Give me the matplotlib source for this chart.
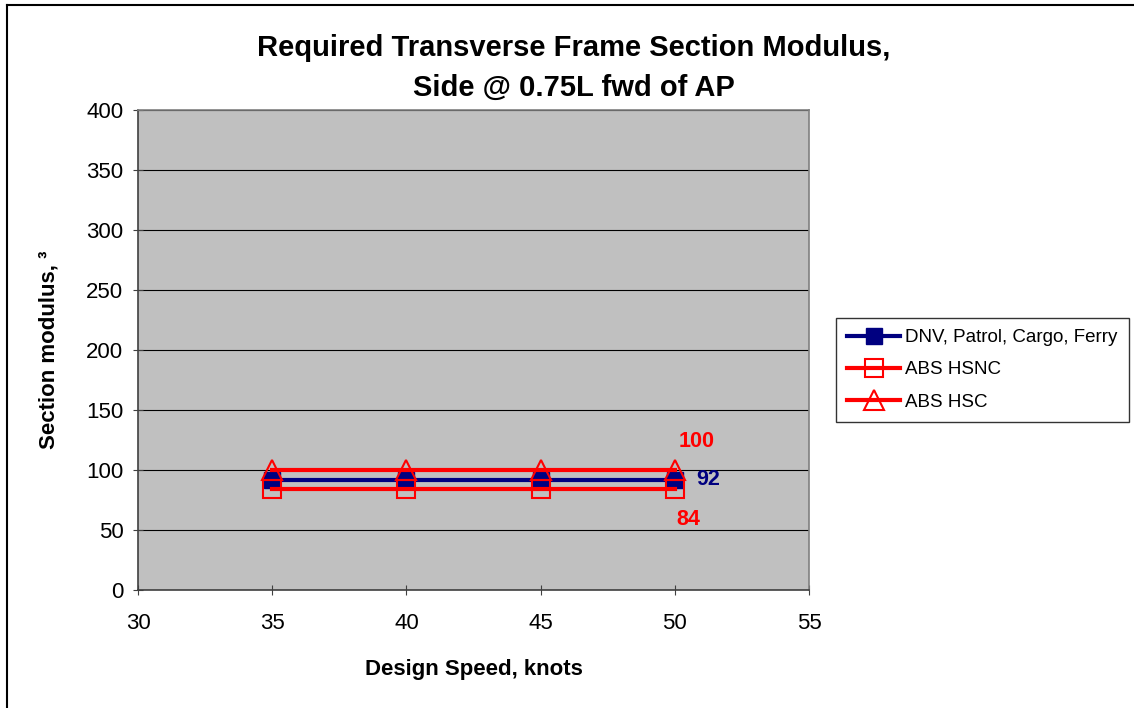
import matplotlib
matplotlib.use('Agg')
import matplotlib.pyplot as plt
from matplotlib.lines import Line2D

# ── Data ──────────────────────────────────────────────────────────────────────
speeds    = [35, 40, 45, 50]
dnv       = [92, 92, 92, 92]
abs_hsnc  = [84, 84, 84, 84]
abs_hsc   = [100, 100, 100, 100]
labels    = ['DNV, Patrol, Cargo, Ferry', 'ABS HSNC', 'ABS HSC']
x_ticks   = [30, 35, 40, 45, 50, 55]
y_ticks   = [0, 50, 100, 150, 200, 250, 300, 350, 400]

plt.rcParams['font.family'] = ['Liberation Sans', 'DejaVu Sans']

fig = plt.figure(figsize=(11.34, 7.08), dpi=100)
fig.patch.set_facecolor('white')
ax = fig.add_axes([138/1134, 1 - 590/708, (809 - 138)/1134, (590 - 110)/708])
ax.set_facecolor('#C0C0C0')

# outer frame (only top & left visible in the original)
fig.add_artist(Line2D([7/1134, 7/1134], [0, 1 - 5/708], color='black', lw=1.5))
fig.add_artist(Line2D([7/1134, 1], [1 - 5/708, 1 - 5/708], color='black', lw=1.5))

ax.plot(speeds, dnv, color='#000080', lw=3, marker='s', ms=11,
        mfc='#000080', mec='#000080', label=labels[0], zorder=3)
ax.plot(speeds, abs_hsnc, color='#FF0000', lw=3, marker='s', ms=13,
        mfc='none', mec='#FF0000', mew=1.5, label=labels[1], zorder=4)
ax.plot(speeds, abs_hsc, color='#FF0000', lw=3, marker='^', ms=14,
        mfc='none', mec='#FF0000', mew=1.5, label=labels[2], zorder=5)

# end-value labels
ax.text(speeds[-1] + 0.15, abs_hsc[-1] + 24, f'{abs_hsc[-1]}', color='#FF0000',
        fontsize=15.5, fontweight='bold', ha='left', va='center')
ax.text(speeds[-1] + 0.8, dnv[-1], f'{dnv[-1]}', color='#000080',
        fontsize=15.5, fontweight='bold', ha='left', va='center')
ax.text(speeds[-1] + 0.05, abs_hsnc[-1] - 25, f'{abs_hsnc[-1]}', color='#FF0000',
        fontsize=15.5, fontweight='bold', ha='left', va='center')

ax.set_xlim(30, 55)
ax.set_ylim(0, 400)
ax.set_xticks(x_ticks)
ax.set_yticks(y_ticks)
ax.grid(axis='y', color='black', lw=0.8)
ax.set_axisbelow(True)
ax.tick_params(direction='inout', length=7, labelsize=16, color='#404040')
ax.tick_params(axis='x', pad=13)
ax.tick_params(axis='y', pad=7)

for sp in ax.spines.values():
    sp.set_edgecolor('#808080')
    sp.set_linewidth(1.2)
ax.spines['left'].set_edgecolor('#404040')
ax.spines['bottom'].set_edgecolor('#404040')

fig.text(574/1134, 1 - 68/708,
         'Required Transverse Frame Section Modulus,\nSide @ 0.75L fwd of AP',
         fontsize=21, fontweight='bold', ha='center', va='center',
         linespacing=1.55)
ax.set_xlabel('Design Speed, knots', fontsize=16, fontweight='bold', labelpad=18)
ax.set_ylabel('Section modulus, ³', fontsize=16, fontweight='bold', labelpad=19)

leg = ax.legend(loc='upper left', bbox_to_anchor=(836/1134, 1 - 318/708),
                bbox_transform=fig.transFigure, fontsize=13.5, frameon=True,
                fancybox=False, edgecolor='black', handlelength=2.8,
                handletextpad=0.3, borderpad=0.6, labelspacing=0.8,
                borderaxespad=0)
leg.get_frame().set_linewidth(1.0)

plt.savefig('out.png', dpi=100, facecolor=fig.get_facecolor())
